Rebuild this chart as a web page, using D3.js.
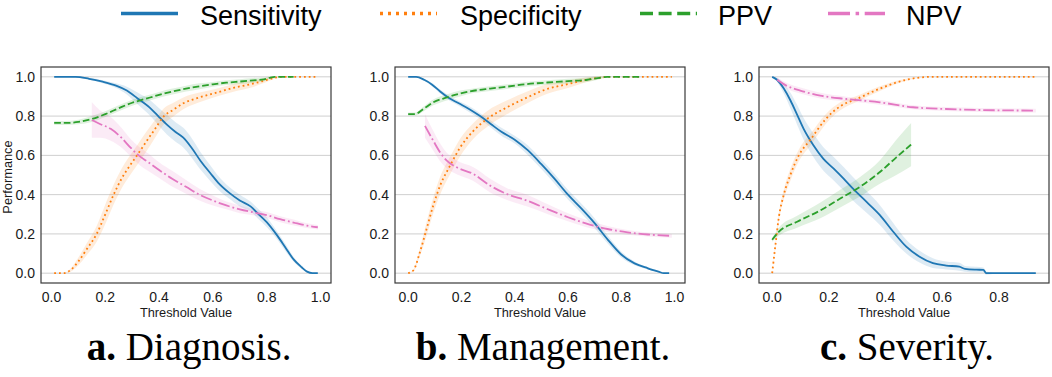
<!DOCTYPE html>
<html>
<head>
<meta charset="utf-8">
<script src="https://cdn.jsdelivr.net/npm/d3@7"></script>
<style>
  body { margin: 0; background: #fff; }
  svg { display: block; }
</style>
</head>
<body>
<svg width="1052" height="377"></svg>
<script>
// series names + tick labels
const seriesNames = ["Sensitivity", "Specificity", "PPV", "NPV"];
const tickValues = [0, 0.2, 0.4, 0.6, 0.8, 1.0];
const captionTags = ["a.", "b.", "c."];
const captionTitles = ["Diagnosis.", "Management.", "Severity."];

// each point: [threshold, mean, half width of the shaded band]
const diagSensitivity = [[0.01,1,0],[0.05,1,0],[0.09,1,0.003],[0.14,0.99,0.005],[0.19,0.975,0.008],[0.24,0.955,0.012],[0.28,0.93,0.02],[0.32,0.89,0.03],[0.37,0.837,0.04],[0.40,0.795,0.045],[0.43,0.755,0.05],[0.46,0.72,0.05],[0.49,0.69,0.05],[0.52,0.64,0.05],[0.555,0.57,0.045],[0.59,0.51,0.04],[0.62,0.46,0.035],[0.66,0.41,0.03],[0.70,0.37,0.03],[0.74,0.34,0.025],[0.77,0.30,0.025],[0.80,0.26,0.025],[0.84,0.19,0.02],[0.87,0.13,0.018],[0.90,0.07,0.012],[0.93,0.03,0.008],[0.95,0.008,0.004],[0.97,0,0],[0.99,0,0]];
const diagSpecificity = [[0.01,0,0],[0.045,0,0],[0.07,0.015,0.008],[0.10,0.06,0.02],[0.13,0.12,0.03],[0.168,0.2,0.04],[0.20,0.3,0.05],[0.231,0.4,0.05],[0.26,0.48,0.05],[0.29,0.545,0.05],[0.318,0.6,0.05],[0.35,0.665,0.05],[0.385,0.735,0.045],[0.418,0.8,0.04],[0.45,0.83,0.035],[0.49,0.865,0.03],[0.55,0.895,0.025],[0.62,0.922,0.02],[0.68,0.945,0.02],[0.74,0.962,0.018],[0.79,0.98,0.012],[0.83,0.995,0.005],[0.86,1,0],[0.99,1,0]];
const diagPPV = [[0.01,0.765,0.01],[0.05,0.765,0.01],[0.10,0.77,0.012],[0.15,0.785,0.015],[0.20,0.81,0.015],[0.25,0.84,0.015],[0.30,0.868,0.015],[0.35,0.888,0.015],[0.40,0.908,0.015],[0.45,0.925,0.015],[0.50,0.94,0.015],[0.55,0.952,0.015],[0.60,0.962,0.012],[0.65,0.97,0.012],[0.70,0.976,0.012],[0.75,0.982,0.012],[0.79,0.987,0.01],[0.81,0.995,0.005],[0.83,1,0],[0.90,1,0]];
const diagNPV = [[0.15,0.78,0.09],[0.18,0.76,0.07],[0.22,0.735,0.06],[0.26,0.69,0.05],[0.29,0.645,0.045],[0.324,0.6,0.045],[0.36,0.565,0.045],[0.40,0.525,0.04],[0.45,0.48,0.04],[0.50,0.44,0.035],[0.55,0.40,0.03],[0.60,0.37,0.025],[0.65,0.345,0.02],[0.70,0.325,0.02],[0.75,0.31,0.015],[0.80,0.296,0.015],[0.85,0.275,0.015],[0.90,0.258,0.015],[0.95,0.242,0.012],[0.99,0.234,0.012]];

const mgmtSensitivity = [[0,1,0],[0.03,1,0],[0.06,0.985,0.005],[0.09,0.96,0.008],[0.12,0.925,0.01],[0.15,0.895,0.012],[0.19,0.865,0.012],[0.23,0.835,0.015],[0.27,0.80,0.015],[0.31,0.76,0.018],[0.35,0.72,0.02],[0.40,0.68,0.02],[0.45,0.625,0.025],[0.50,0.555,0.025],[0.55,0.48,0.025],[0.60,0.40,0.025],[0.65,0.33,0.025],[0.70,0.255,0.025],[0.75,0.17,0.02],[0.80,0.095,0.015],[0.85,0.05,0.01],[0.90,0.025,0.006],[0.94,0.008,0.003],[0.96,0,0],[0.98,0,0]];
const mgmtSpecificity = [[0,0,0],[0.02,0.015,0.005],[0.044,0.107,0.02],[0.069,0.225,0.035],[0.094,0.344,0.04],[0.12,0.446,0.045],[0.157,0.547,0.045],[0.195,0.64,0.045],[0.245,0.725,0.04],[0.296,0.785,0.04],[0.37,0.844,0.035],[0.447,0.895,0.03],[0.52,0.937,0.025],[0.60,0.963,0.02],[0.67,0.985,0.012],[0.736,0.998,0.004],[0.77,1,0],[0.99,1,0]];
const mgmtPPV = [[0,0.81,0.008],[0.025,0.81,0.008],[0.057,0.836,0.012],[0.094,0.87,0.015],[0.145,0.895,0.015],[0.195,0.915,0.015],[0.245,0.929,0.012],[0.308,0.94,0.012],[0.371,0.95,0.012],[0.447,0.963,0.012],[0.522,0.971,0.012],[0.60,0.978,0.012],[0.673,0.985,0.012],[0.72,0.995,0.008],[0.748,1,0],[0.87,1,0]];
const mgmtNPV = [[0.063,0.75,0.06],[0.094,0.675,0.05],[0.12,0.615,0.045],[0.145,0.573,0.04],[0.182,0.539,0.035],[0.245,0.505,0.035],[0.308,0.446,0.035],[0.371,0.403,0.03],[0.447,0.369,0.03],[0.522,0.327,0.025],[0.60,0.285,0.02],[0.673,0.251,0.018],[0.748,0.225,0.015],[0.824,0.208,0.012],[0.90,0.197,0.01],[0.99,0.19,0.01]];

const sevSensitivity = [[0,1,0],[0.017,0.985,0.01],[0.041,0.94,0.025],[0.065,0.878,0.04],[0.087,0.81,0.05],[0.111,0.735,0.055],[0.146,0.65,0.06],[0.18,0.583,0.06],[0.217,0.532,0.06],[0.252,0.481,0.06],[0.285,0.43,0.06],[0.333,0.363,0.055],[0.38,0.296,0.05],[0.427,0.211,0.045],[0.473,0.135,0.035],[0.52,0.084,0.03],[0.567,0.051,0.025],[0.614,0.039,0.02],[0.66,0.033,0.02],[0.68,0.022,0.015],[0.72,0.018,0.015],[0.745,0.017,0.012],[0.755,0,0.008],[0.80,0,0],[0.93,0,0]];
const sevSpecificity = [[0,0,0],[0.012,0.15,0.015],[0.023,0.28,0.02],[0.041,0.40,0.025],[0.064,0.50,0.03],[0.094,0.60,0.03],[0.135,0.68,0.03],[0.189,0.785,0.025],[0.24,0.85,0.02],[0.298,0.887,0.015],[0.38,0.94,0.012],[0.473,0.985,0.005],[0.567,1,0],[0.93,1,0]];
const sevPPV = [[0,0.17,0.01],[0.023,0.21,0.02],[0.088,0.262,0.03],[0.17,0.32,0.04],[0.24,0.38,0.045],[0.31,0.44,0.05],[0.38,0.515,0.06],[0.438,0.59,0.09],[0.49,0.655,0.11]];
const sevNPV = [[0.0175,0.985,0.01],[0.05,0.955,0.015],[0.099,0.93,0.015],[0.17,0.904,0.015],[0.263,0.887,0.012],[0.38,0.87,0.012],[0.497,0.845,0.01],[0.614,0.836,0.01],[0.731,0.831,0.01],[0.93,0.828,0.01]];

const panelSeries = [
    [diagSensitivity, diagSpecificity, diagPPV, diagNPV],
    [mgmtSensitivity, mgmtSpecificity, mgmtPPV, mgmtNPV],
    [sevSensitivity, sevSpecificity, sevPPV, sevNPV]
];

// styling
const colors = ["#1f77b4", "#ff7f0e", "#2ca02c", "#e377c2"];
const plotDash = [null, "1.8,3", "6.7,2.9", "11.5,2.9,1.8,2.9"];
const legendDash = [null, "3,5", "13,5.6", "22,5.6,3.5,5.6"];
const font = "Liberation Sans";

const svg = d3.select("svg");
const panelLeft = [41, 395, 759];
const panelW = 290;
const plotTop = 67, plotBottom = 283;

const y = d3.scaleLinear().domain([-0.05, 1.05]).range([plotBottom, plotTop]);
const fmt = d3.format(".1f");

panelSeries.forEach((series, p) => {
    const x0 = panelLeft[p];
    const allX = series.flat().map(d => d[0]);
    const lo = d3.min(allX), hi = d3.max(allX);
    const pad = (hi - lo) * 0.05;
    const x = d3.scaleLinear().domain([lo - pad, hi + pad]).range([x0, x0 + panelW]);

    const g = svg.append("g");

    g.append("clipPath").attr("id", "clip" + p)
        .append("rect")
        .attr("x", x0).attr("y", plotTop)
        .attr("width", panelW).attr("height", plotBottom - plotTop);

    // horizontal grid
    g.selectAll(".grid")
        .data(tickValues).enter().append("line")
        .attr("x1", x0).attr("x2", x0 + panelW)
        .attr("y1", d => y(d)).attr("y2", d => y(d))
        .attr("stroke", "#cfcfcf")
        .attr("stroke-width", 1);

    const plot = g.append("g").attr("clip-path", `url(#clip${p})`);

    const area = d3.area()
        .x(d => x(d[0]))
        .y0(d => y(d[1] - d[2]))
        .y1(d => y(d[1] + d[2]))
        .curve(d3.curveMonotoneX);

    const line = d3.line()
        .x(d => x(d[0]))
        .y(d => y(d[1]))
        .curve(d3.curveMonotoneX);

    series.forEach((s, i) => {
        plot.append("path")
            .datum(s)
            .attr("d", area)
            .attr("fill", colors[i])
            .attr("fill-opacity", 0.15);
    });

    series.forEach((s, i) => {
        plot.append("path")
            .datum(s)
            .attr("d", line)
            .attr("fill", "none")
            .attr("stroke", colors[i])
            .attr("stroke-width", 1.8)
            .attr("stroke-dasharray", plotDash[i]);
    });

    // frame
    g.append("rect")
        .attr("x", x0).attr("y", plotTop)
        .attr("width", panelW).attr("height", plotBottom - plotTop)
        .attr("fill", "none")
        .attr("stroke", "#3a3a3a")
        .attr("stroke-width", 1.2);

    // y tick labels
    g.selectAll(".ytick")
        .data(tickValues).enter().append("text")
        .attr("x", x0 - 6)
        .attr("y", d => y(d) + 5)
        .attr("text-anchor", "end")
        .style("font-family", font)
        .style("font-size", "14px")
        .style("fill", "#1a1a1a")
        .text(fmt);

    // x tick labels
    const xt = tickValues.filter(t => t >= x.domain()[0] && t <= x.domain()[1]);
    g.selectAll(".xtick")
        .data(xt).enter().append("text")
        .attr("x", d => x(d))
        .attr("y", 302)
        .attr("text-anchor", "middle")
        .style("font-family", font)
        .style("font-size", "14px")
        .style("fill", "#1a1a1a")
        .text(fmt);

    g.append("text")
        .attr("x", x0 + panelW / 2)
        .attr("y", 317)
        .attr("text-anchor", "middle")
        .style("font-family", font)
        .style("font-size", "12.8px")
        .style("fill", "#1a1a1a")
        .text("Threshold Value");

    const cap = g.append("text")
        .attr("x", x0 + panelW / 2 + 3)
        .attr("y", 360)
        .attr("text-anchor", "middle")
        .style("font-family", "Liberation Serif")
        .style("font-size", "39px")
        .style("fill", "#000");
    cap.append("tspan").style("font-weight", "bold").text(captionTags[p]);
    cap.append("tspan").text(" " + captionTitles[p]);
});

svg.append("text")
    .attr("transform", `translate(11.5, ${(plotTop + plotBottom) / 2 + 2}) rotate(-90)`)
    .attr("text-anchor", "middle")
    .style("font-family", font)
    .style("font-size", "12.8px")
    .style("fill", "#1a1a1a")
    .text("Performance");

// legend
const legendLineX = [121, 380, 640, 828];
const legendTextX = [200, 460, 718, 906];
const legend = svg.append("g");
seriesNames.forEach((name, i) => {
    legend.append("line")
        .attr("x1", legendLineX[i]).attr("x2", legendLineX[i] + 57)
        .attr("y1", 13.5).attr("y2", 13.5)
        .attr("stroke", colors[i])
        .attr("stroke-width", 3.6)
        .attr("stroke-dasharray", legendDash[i]);
    legend.append("text")
        .attr("x", legendTextX[i])
        .attr("y", 24.5)
        .style("font-family", font)
        .style("font-size", "27px")
        .style("fill", "#000")
        .text(name);
});
</script>
</body>
</html>
